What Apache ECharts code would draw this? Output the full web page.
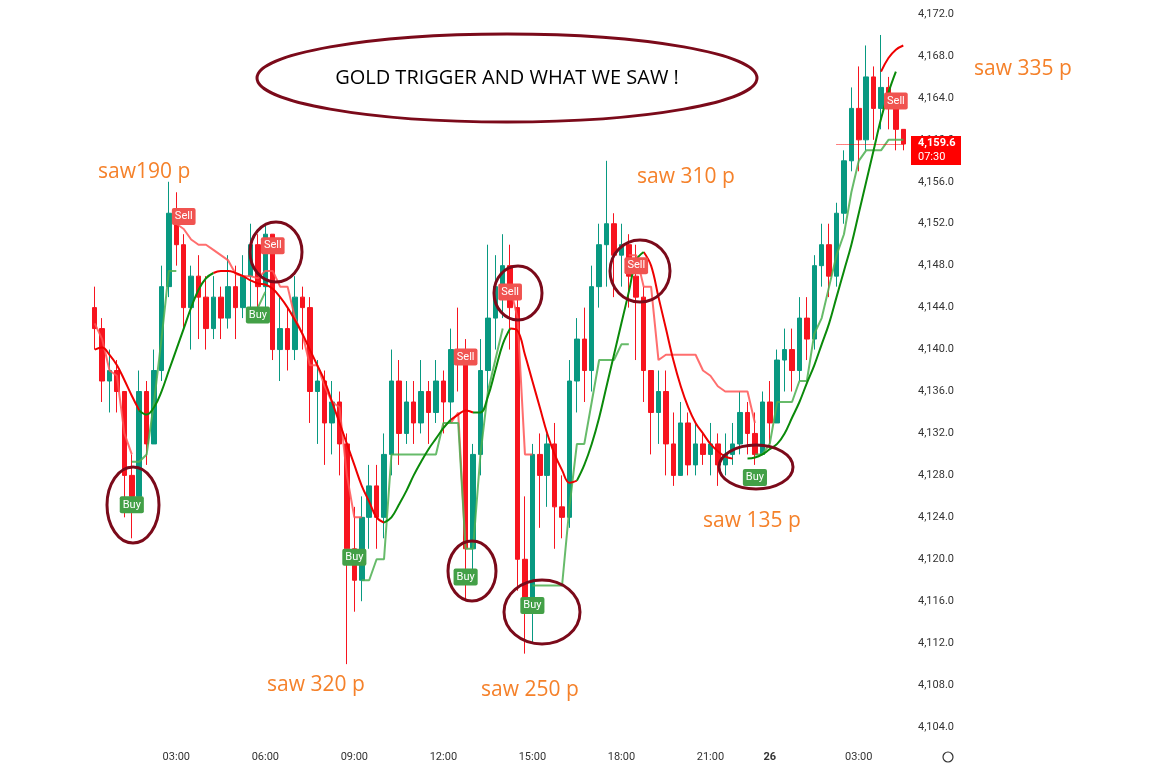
<!DOCTYPE html>
<html><head><meta charset="utf-8">
<script src="https://cdn.jsdelivr.net/npm/echarts@6/dist/echarts.min.js"></script>
<style>html,body{margin:0;padding:0;background:#fff}#c{width:1156px;height:772px}</style>
</head><body><div id="c"></div>
<script>
// 15-minute candles: day 1 00:15–22:45, day 2 (26th) 00:00–04:30
const day1Times = ["00:15","00:30","00:45","01:00","01:15","01:30","01:45","02:00","02:15","02:30","02:45","03:00","03:15","03:30","03:45","04:00","04:15","04:30","04:45","05:00","05:15","05:30","05:45","06:00","06:15","06:30","06:45","07:00","07:15","07:30","07:45","08:00","08:15","08:30","08:45","09:00","09:15","09:30","09:45","10:00","10:15","10:30","10:45","11:00","11:15","11:30","11:45","12:00","12:15","12:30","12:45","13:00","13:15","13:30","13:45","14:00","14:15","14:30","14:45","15:00","15:15","15:30","15:45","16:00","16:15","16:30","16:45","17:00","17:15","17:30","17:45","18:00","18:15","18:30","18:45","19:00","19:15","19:30","19:45","20:00","20:15","20:30","20:45","21:00","21:15","21:30","21:45","22:00","22:15","22:30","22:45"];
const day2Times = ["26","00:15","00:30","00:45","01:00","01:15","01:30","01:45","02:00","02:15","02:30","02:45","03:00","03:15","03:30","03:45","04:00","04:15","04:30"];
const tickLabels = {11:"03:00",23:"06:00",35:"09:00",47:"12:00",59:"15:00",71:"18:00",83:"21:00",91:"26",103:"03:00"};

const opens  = [4144,4142,4137,4138,4136,4128,4126,4136,4131,4138,4146,4153,4150,4144,4147,4145,4142,4145,4143,4146,4144,4147,4150,4146,4151,4140,4142,4140,4145,4144,4136,4137,4133,4135,4131,4121,4118,4124,4127,4124,4130,4137,4132,4135,4133,4136,4134,4137,4135,4140,4139,4121,4130,4138,4143,4146,4148,4144,4120,4116,4130,4128,4131,4125,4124,4137,4141,4138,4146,4150,4152,4149,4150,4147,4145,4138,4134,4136,4131,4128,4133,4129,4131,4130,4131,4129,4130,4131,4134,4132,4130,4135,4133,4139,4140,4138,4143,4141,4148,4150,4147,4153,4158,4163,4160,4166,4163,4165,4163,4161];
const closes = [4142,4137,4138,4136,4128,4126,4136,4131,4138,4146,4153,4150,4144,4147,4145,4142,4145,4143,4146,4144,4147,4150,4146,4151,4140,4142,4140,4145,4144,4136,4137,4133,4135,4131,4121,4118,4124,4127,4124,4130,4137,4132,4135,4133,4136,4134,4137,4135,4140,4139,4121,4130,4138,4143,4146,4148,4144,4120,4116,4130,4128,4131,4125,4124,4137,4141,4138,4146,4150,4152,4149,4150,4147,4145,4138,4134,4136,4131,4128,4133,4129,4131,4130,4131,4129,4130,4131,4134,4132,4130,4135,4133,4139,4140,4138,4143,4141,4148,4150,4147,4153,4158,4163,4160,4166,4163,4165,4163,4161,4159.6];
const lows   = [4140,4135,4134,4134,4124,4122,4125,4129,4131,4137,4145,4148,4142,4140,4141,4140,4141,4141,4142,4141,4143,4144,4144,4143,4139,4137,4138,4139,4140,4133,4131,4129,4130,4128,4110,4115,4116,4121,4121,4122,4128,4129,4131,4131,4132,4131,4133,4132,4133,4136,4116,4119,4128,4136,4140,4143,4140,4117,4111,4112,4123,4125,4121,4122,4123,4134,4135,4136,4144,4146,4145,4146,4144,4139,4135,4130,4131,4128,4127,4129,4128,4128,4129,4128,4127,4128,4129,4130,4130,4129,4130,4131,4133,4136,4136,4137,4139,4140,4146,4145,4146,4152,4157,4157,4159,4160,4161,4161,4159,4159];
const highs  = [4146,4143,4140,4139,4136,4130,4138,4137,4140,4148,4156,4155,4151,4148,4149,4147,4147,4146,4149,4148,4149,4152,4151,4152,4151,4145,4144,4147,4146,4145,4139,4138,4137,4136,4132,4125,4126,4129,4129,4132,4140,4139,4137,4137,4139,4137,4139,4138,4142,4144,4141,4131,4141,4150,4149,4151,4150,4145,4126,4131,4132,4132,4133,4128,4139,4143,4144,4148,4152,4158,4153,4152,4151,4150,4146,4138,4138,4138,4134,4135,4134,4133,4132,4133,4132,4132,4133,4136,4135,4134,4136,4137,4140,4142,4142,4145,4145,4149,4152,4152,4154,4159,4165,4167,4169,4167,4170,4166,4164,4161];

const _ = null;
// smooth trend line: red (down) and green (up) parts
const trendRed = [4140,4140.2,4139.5,4138.5,4137.1,4135.6,4134.2,_,_,_,_,_,_,_,_,_,4147.3,4147.5,4147.5,4147.3,4147,4146.6,4146.3,4146.2,4145.8,4145,4144,4142.8,4141.5,4140,4138.5,4137,4135,4133,4131,4129,4127,4125.5,4124,4123.5,_,_,_,_,_,_,_,_,4133.3,4133.8,4134.2,4134,_,_,_,_,4142,4141.8,4139.5,4137,4134.5,4132,4130,4128.5,4127.3,4127.5,_,_,_,_,_,_,_,_,4149.3,4148,4145,4142,4139,4136.5,4134.5,4133,4132,4131,4130.3,4129.8,4129.6,_,_,_,_,_,_,_,_,_,_,_,_,_,_,_,_,_,_,_,4166.5,4167.8,4168.6,4169];
const trendGreen = [_,_,_,_,_,_,4134.2,4133.8,4134.5,4136,4138,4140,4142,4144,4145.7,4146.8,4147.3,_,_,_,_,_,_,_,_,_,_,_,_,_,_,_,_,_,_,_,_,_,_,4123.5,4124,4125.2,4126.5,4128,4129.3,4130.5,4131.5,4132.5,4133.3,_,_,4134,4134,4135.5,4138,4140.5,4142,_,_,_,_,_,_,_,_,4127.5,4129,4131,4133.5,4136.5,4139.5,4142.5,4145.5,4148.5,4149.3,_,_,_,_,_,_,_,_,_,_,_,_,_,4129.6,4129.7,4130,4130.5,4131,4132,4133.5,4135,4136.8,4138.5,4140.5,4142.5,4145,4147.5,4150,4153,4156,4159,4162,4164.5,4166.5,_,_,_];
// stepped trailing stop lines
const stopRed = [4142.5,4141,4138,4137.5,4132,4130,_,_,_,_,_,4152,4151.5,4150.5,4150,4150,4149.5,4149,4148.5,4147.2,4147,4147,4146.8,4147.5,4147.5,4146,4146,4143,4141.5,4138.5,4138.5,4136.5,4135,4134.5,4128,4124,4124,_,_,_,_,_,_,_,_,_,_,_,4133,4134,4121,_,_,_,_,4146,4146,4143,4130,4130,_,_,_,_,_,_,_,_,_,_,_,_,4149,4149,4146,4146,4139,4139.5,4139.5,4139.5,4139.5,4139.5,4138,4137.5,4136.5,4136,4136,4136,4136,4133,_,_,_,_,_,_,_,_,_,_,_,_,_,_,_,_,_,_,_,_];
const stopGreen = [_,_,_,_,_,4129.3,4129.3,4130,4135,4141,4147.5,4147.5,_,_,_,_,_,_,_,_,_,_,4144,4145.5,_,_,_,_,_,_,_,_,_,_,_,_,4118,4118,4120,4120,4130,4130,4130,4130,4130,4130,4130,4133,4133,4133,4121,4121,4130,4136,4139,4142,_,_,_,4117.5,4117.5,4117.5,4117.5,4117.5,4125,4131,4131,4135,4139,4139,4139,4140.5,4140.5,_,_,_,_,_,_,_,_,_,_,_,_,_,_,_,_,4130,4130,4131,4135,4135,4135,4137,4137,4141.5,4143,4146,4149,4151,4155,4158,4159,4159,4159,4160,4160,4160];
// signal markers [index, price]
const sellSignals = [[12,4152.7],[24,4149.9],[50,4139.3],[56,4145.5],[73,4148],[108,4163.7]];
const buySignals  = [[5,4125.2],[22,4143.3],[35,4120.2],[50,4118.3],[59,4115.6],[89,4127.8]];
const lastPrice = 4159.6;
const notes = [["saw190 p",98,172],["saw 320 p",267,685],["saw 250 p",481,690],["saw 310 p",637,177],["saw 135 p",703,521],["saw 335 p",974,69]];
const circles = [[133,505,26,38],[276,252,26,30],[472,571,24,30],[542,612,38,32],[518,293,24,27],[640,271,30,31],[756,467,37,22]];

const categories = day1Times.concat(day2Times);
const candleData = opens.map((o,i)=>[o,closes[i],lows[i],highs[i]]);
const UP='#089981', DOWN='#f7141f';
const chart = echarts.init(document.getElementById('c'));
const lineS = (data,color,width,opacity,z)=>({type:'line',data,smooth:false,showSymbol:false,connectNulls:false,lineStyle:{color,width,opacity},z,silent:true});
const smoothS = (data,color)=>({type:'line',data,smooth:0.4,showSymbol:false,lineStyle:{color,width:2},z:5,silent:true});
const sigS = (data,text,bg)=>({type:'scatter',data,symbol:'circle',symbolSize:1,itemStyle:{color:bg,opacity:1},z:10,silent:true,
  labelLayout:{hideOverlap:false},
  label:{show:true,position:'inside',formatter:text,color:'#fff',opacity:1,backgroundColor:bg,padding:[3,3,3,3],borderRadius:2,fontSize:11,fontFamily:'Roboto'}});
const graphics = [
  {type:'ellipse',shape:{cx:507,cy:78,rx:250,ry:44},style:{fill:'none',stroke:'#7b0a1a',lineWidth:3}},
  {type:'text',x:507,y:78,style:{text:'GOLD TRIGGER AND WHAT WE SAW !',font:'20px "Open Sans"',fill:'#000',align:'center',verticalAlign:'middle'}},
  {type:'rect',shape:{x:911,y:136,width:50,height:29},style:{fill:'#ff0000'},z:30},
  {type:'text',x:918,y:143,style:{text:'4,159.6',font:'bold 11px Roboto',fill:'#fff',verticalAlign:'middle'},z:31},
  {type:'text',x:918,y:157,style:{text:'07:30',font:'11px Roboto',fill:'#fff',verticalAlign:'middle'},z:31},
  {type:'circle',shape:{cx:948,cy:757,r:5},style:{fill:'none',stroke:'#333',lineWidth:1.2}}
];
circles.forEach(c=>graphics.push({type:'ellipse',shape:{cx:c[0],cy:c[1],rx:c[2],ry:c[3]},style:{fill:'none',stroke:'#7b0a1a',lineWidth:3},z:20}));
notes.forEach(n=>graphics.push({type:'text',x:n[1],y:n[2],style:{text:n[0],font:'21px "Open Sans"',fill:'#f5812a',verticalAlign:'middle'},z:20}));

chart.setOption({
  animation:false,
  grid:{left:91,right:249,top:-27.94,bottom:3,outerBoundsMode:'none',containLabel:false},
  xAxis:{type:'category',data:categories,boundaryGap:true,
    axisLine:{show:false},axisTick:{show:false},splitLine:{show:false},
    axisLabel:{inside:true,margin:6,fontSize:11,color:'#333',fontFamily:'Roboto',
      interval:(i)=>tickLabels[i]!==undefined,
      formatter:(v,i)=>tickLabels[i]==='26'?'{b|26}':(tickLabels[i]||''),
      rich:{b:{fontWeight:'bold',fontSize:11,color:'#333'}}}},
  yAxis:{type:'value',position:'right',min:4100,max:4176,interval:4,
    axisLine:{show:false},axisTick:{show:false},splitLine:{show:false},
    axisLabel:{margin:11,fontSize:11,color:'#333',fontFamily:'Roboto',
      formatter:v=>(v<=4100||v>=4176)?'':v.toLocaleString('en-US',{minimumFractionDigits:1,maximumFractionDigits:1})}},
  graphic:graphics,
  series:[
    {type:'candlestick',data:candleData,barWidth:5,z:3,
      itemStyle:{color:UP,color0:DOWN,borderColor:UP,borderColor0:DOWN,borderWidth:1},
      markLine:{symbol:'none',silent:true,label:{show:false},
        lineStyle:{color:'#ff0000',type:'dotted',width:1},
        data:[[{coord:[100,lastPrice]},{coord:[109,lastPrice]}]]}},
    lineS(stopRed,'#f55',2,0.85,4),
    lineS(stopGreen,'#4caf50',2,0.85,4),
    smoothS(trendRed,'#ee0000'),
    smoothS(trendGreen,'#0a8a0a'),
    sigS(sellSignals,'Sell','#f05350'),
    sigS(buySignals,'Buy','#43a047')
  ]
});
</script></body></html>
